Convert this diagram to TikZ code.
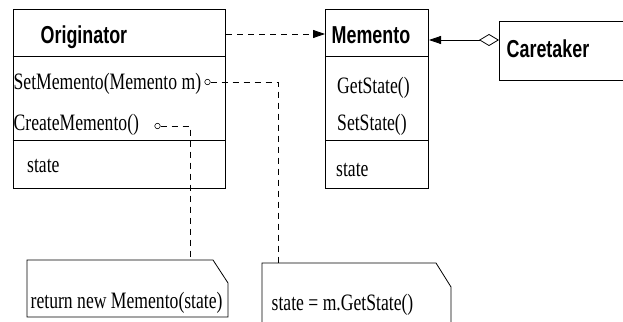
\documentclass[tikz,border=0pt]{standalone}
\usepackage{fontspec}
\usepackage{tikz}
\usetikzlibrary{arrows.meta}
\newfontfamily\umlsans[FakeStretch=0.73]{Liberation Sans}
\newfontfamily\umlserif[FakeStretch=0.75]{Liberation Serif}

\begin{document}
\begin{tikzpicture}[x=1pt,y=-1pt,
  classbox/.style={draw,line width=1pt,inner sep=0pt,anchor=north west},
  classname/.style={font=\umlsans\bfseries\fontsize{24.5}{28}\selectfont,inner sep=0pt,anchor=base west},
  member/.style={font=\umlserif\fontsize{23.5}{26}\selectfont,inner sep=0pt,anchor=base west},
  dep/.style={dash pattern=on 6pt off 5pt,line width=0.8pt},
  knob/.style={circle,draw,line width=0.6pt,inner sep=0pt,minimum size=5.5pt},
  notepath/.style={draw,line width=0.8pt}]
\useasboundingbox (0,0) rectangle (623,321);
% classes
\node [classbox,minimum width=212.3pt,minimum height=178.2pt] (orig) at (12.7,9.3) {};
\draw [line width=1pt] (12.7,57) -- (225,57);
\draw [line width=1pt] (12.7,140) -- (225,140);
\node [classname] (origname) at (40.5,44) {Originator};
\node [member] (setmem) at (13.5,89) {SetMemento(Memento m)};
\node [member] (createmem) at (13.5,130) {CreateMemento()};
\node [member] (origstate) at (27,172) {state};
\node [classbox,minimum width=103pt,minimum height=179pt] (mem) at (325,9) {};
\draw [line width=1pt] (325,57) -- (428,57);
\draw [line width=1pt] (325,140) -- (428,140);
\node [classname] (memname) at (331.5,44) {Memento};
\node [member] (getst) at (337,93) {GetState()};
\node [member] (setst) at (337,130) {SetState()};
\node [member] (memstate) at (336,176) {state};
\node [classbox,minimum width=127pt,minimum height=59pt] (care) at (499,21) {};
\node [classname] (carename) at (506.5,57) {Caretaker};
% notes
\draw [notepath] (27,260) -- (213,260) -- (228,283) -- (228,317) -- (27,317) -- cycle;
\node [member] (note1text) at (30.5,308) {return new Memento(state)};
\draw [notepath] (262,330) -- (262,263) -- (436,263) -- (451,287) -- (451,330);
\node [member] (note2text) at (271.5,310) {state = m.GetState()};
\coordinate (note1top) at (190,260);
\coordinate (note2top) at (278,263);
% connectors
\coordinate (deprow) at (0,34);
\coordinate (aggrow) at (0,40);
\draw [dep,-{Triangle[length=12pt,width=8pt]}] (orig.east |- deprow) -- (mem.west |- deprow);
\draw [line width=0.8pt,{Diamond[open,length=20pt,width=12pt]}-{Triangle[length=12pt,width=8pt]}] (care.west |- aggrow) -- (mem.east |- aggrow);
\node [knob] (setknob) at (207.5,82) {};
\node [knob] (createknob) at (157.5,126) {};
\draw [dep] (setknob) -| (note2top);
\draw [dep] (createknob) -| (note1top);
\end{tikzpicture}
\end{document}
